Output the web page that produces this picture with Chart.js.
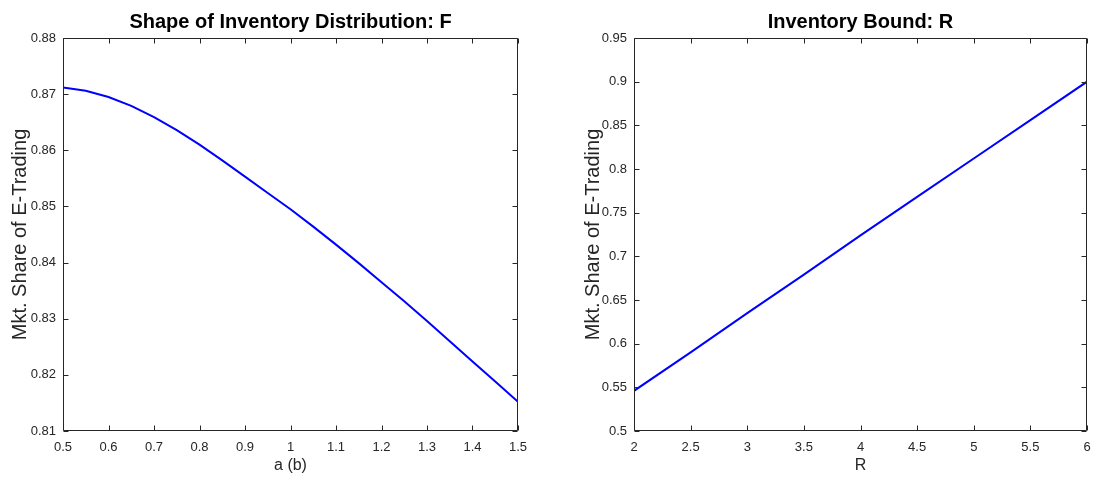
<!DOCTYPE html>
<html>
<head>
<meta charset="utf-8">
<script src="https://cdn.jsdelivr.net/npm/chart.js@4"></script>
<style>
  html, body { margin: 0; padding: 0; background: #ffffff; overflow: hidden; }
  #wrap { position: relative; width: 1093px; height: 477px; overflow: hidden; }
  canvas { position: absolute; top: 0; }
  #c1 { left: 0; }
  #c2 { left: 580px; }
</style>
</head>
<body>
<div id="wrap">
  <canvas id="c1" width="580" height="477"></canvas>
  <canvas id="c2" width="564" height="477"></canvas>
</div>
<script>
// ---- Left panel: Shape of Inventory Distribution: F ----
const leftTitle = 'Shape of Inventory Distribution: F';
const leftXLabel = 'a (b)';
const leftYLabel = 'Mkt. Share of E-Trading';
const leftX = [0.50, 0.55, 0.60, 0.65, 0.70, 0.75, 0.80, 0.85, 0.90, 0.95, 1.00,
               1.05, 1.10, 1.15, 1.20, 1.25, 1.30, 1.35, 1.40, 1.45, 1.50];
const leftY = [0.8712, 0.8706, 0.8695, 0.8679, 0.8659, 0.8636, 0.8610, 0.8582, 0.8553, 0.8524, 0.8495,
               0.8464, 0.8432, 0.8399, 0.8365, 0.8331, 0.8296, 0.8260, 0.8224, 0.8188, 0.8152];
const leftXTicks = [0.5, 0.6, 0.7, 0.8, 0.9, 1.0, 1.1, 1.2, 1.3, 1.4, 1.5];
const leftXTickLabels = ['0.5', '0.6', '0.7', '0.8', '0.9', '1', '1.1', '1.2', '1.3', '1.4', '1.5'];
const leftYTicks = [0.81, 0.82, 0.83, 0.84, 0.85, 0.86, 0.87, 0.88];
const leftYTickLabels = ['0.81', '0.82', '0.83', '0.84', '0.85', '0.86', '0.87', '0.88'];

// ---- Right panel: Inventory Bound: R ----
const rightTitle = 'Inventory Bound: R';
const rightXLabel = 'R';
const rightYLabel = 'Mkt. Share of E-Trading';
const rightX = [2, 2.5, 3, 3.5, 4, 4.5, 5, 5.5, 6];
const rightY = [0.546, 0.590, 0.635, 0.679, 0.724, 0.768, 0.812, 0.856, 0.900];
const rightXTicks = [2, 2.5, 3, 3.5, 4, 4.5, 5, 5.5, 6];
const rightXTickLabels = ['2', '2.5', '3', '3.5', '4', '4.5', '5', '5.5', '6'];
const rightYTicks = [0.5, 0.55, 0.6, 0.65, 0.7, 0.75, 0.8, 0.85, 0.9, 0.95];
const rightYTickLabels = ['0.5', '0.55', '0.6', '0.65', '0.7', '0.75', '0.8', '0.85', '0.9', '0.95'];

const FONT = '"Liberation Sans", Arial, Helvetica, sans-serif';
const AXIS_COLOR = '#262626';

const matlabBox = {
  id: 'matlabBox',
  afterDatasetsDraw(chart) {
    const { ctx, chartArea: a, scales: { x, y } } = chart;
    const L = Math.round(a.left) + 0.5, R = Math.round(a.right) - 0.5;
    const T = Math.round(a.top) + 0.5, B = Math.round(a.bottom) - 0.5;
    const tl = 5;
    ctx.save();
    ctx.strokeStyle = AXIS_COLOR;
    ctx.lineWidth = 1;
    ctx.beginPath();
    ctx.rect(L, T, R - L, B - T);
    x.ticks.forEach(t => {
      const px = Math.round(x.getPixelForValue(t.value)) + 0.5;
      ctx.moveTo(px, B); ctx.lineTo(px, B - tl);
      ctx.moveTo(px, T); ctx.lineTo(px, T + tl);
    });
    y.ticks.forEach(t => {
      const py = Math.round(y.getPixelForValue(t.value)) + 0.5;
      ctx.moveTo(L, py); ctx.lineTo(L + tl, py);
      ctx.moveTo(R, py); ctx.lineTo(R - tl, py);
    });
    ctx.stroke();
    ctx.restore();
  }
};

function makeChart(id, cfg) {
  const pts = cfg.xs.map((v, i) => ({ x: v, y: cfg.ys[i] }));
  return new Chart(document.getElementById(id), {
    type: 'line',
    data: {
      datasets: [{
        data: pts,
        borderColor: '#0000ff',
        borderWidth: 2,
        pointRadius: 0,
        tension: 0,
        fill: false
      }]
    },
    options: {
      responsive: false,
      animation: false,
      devicePixelRatio: 1,
      layout: { padding: { left: 0, top: 0, right: cfg.padRight, bottom: 0 } },
      plugins: {
        legend: { display: false },
        tooltip: { enabled: false },
        title: {
          display: true,
          fullSize: false,
          text: cfg.title,
          color: '#000000',
          font: { family: FONT, size: 20, weight: 'bold', lineHeight: 1.2 },
          padding: { top: 10, bottom: 4 }
        }
      },
      scales: {
        x: {
          type: 'linear',
          min: cfg.xTicks[0],
          max: cfg.xTicks[cfg.xTicks.length - 1],
          grid: { display: false, drawTicks: false },
          border: { display: false },
          afterBuildTicks: s => { s.ticks = cfg.xTicks.map(v => ({ value: v })); },
          afterFit: s => { s.height = 46; },
          ticks: {
            autoSkip: false,
            maxRotation: 0,
            color: AXIS_COLOR,
            font: { family: FONT, size: 13 },
            padding: 9,
            callback: (v, i) => cfg.xTickLabels[i]
          },
          title: {
            display: true,
            text: cfg.xLabel,
            color: AXIS_COLOR,
            font: { family: FONT, size: 16 },
            padding: { top: 0, bottom: 2 }
          }
        },
        y: {
          type: 'linear',
          min: cfg.yTicks[0],
          max: cfg.yTicks[cfg.yTicks.length - 1],
          grid: { display: false, drawTicks: false },
          border: { display: false },
          afterBuildTicks: s => { s.ticks = cfg.yTicks.map(v => ({ value: v })); },
          afterFit: s => { s.width = cfg.yWidth; },
          ticks: {
            autoSkip: false,
            color: AXIS_COLOR,
            font: { family: FONT, size: 13 },
            padding: 7,
            callback: (v, i) => cfg.yTickLabels[i]
          },
          title: {
            display: true,
            text: cfg.yLabel,
            color: AXIS_COLOR,
            font: { family: FONT, size: 20 },
            padding: { top: cfg.yTitlePad, bottom: 0 }
          }
        }
      }
    },
    plugins: [matlabBox]
  });
}

makeChart('c1', {
  xs: leftX, ys: leftY, title: leftTitle, xLabel: leftXLabel, yLabel: leftYLabel,
  xTicks: leftXTicks, xTickLabels: leftXTickLabels, yTicks: leftYTicks, yTickLabels: leftYTickLabels,
  yWidth: 63, padRight: 62, yTitlePad: 8
});
makeChart('c2', {
  xs: rightX, ys: rightY, title: rightTitle, xLabel: rightXLabel, yLabel: rightYLabel,
  xTicks: rightXTicks, xTickLabels: rightXTickLabels, yTicks: rightYTicks, yTickLabels: rightYTickLabels,
  yWidth: 54, padRight: 57, yTitlePad: 1
});
</script>
</body>
</html>
